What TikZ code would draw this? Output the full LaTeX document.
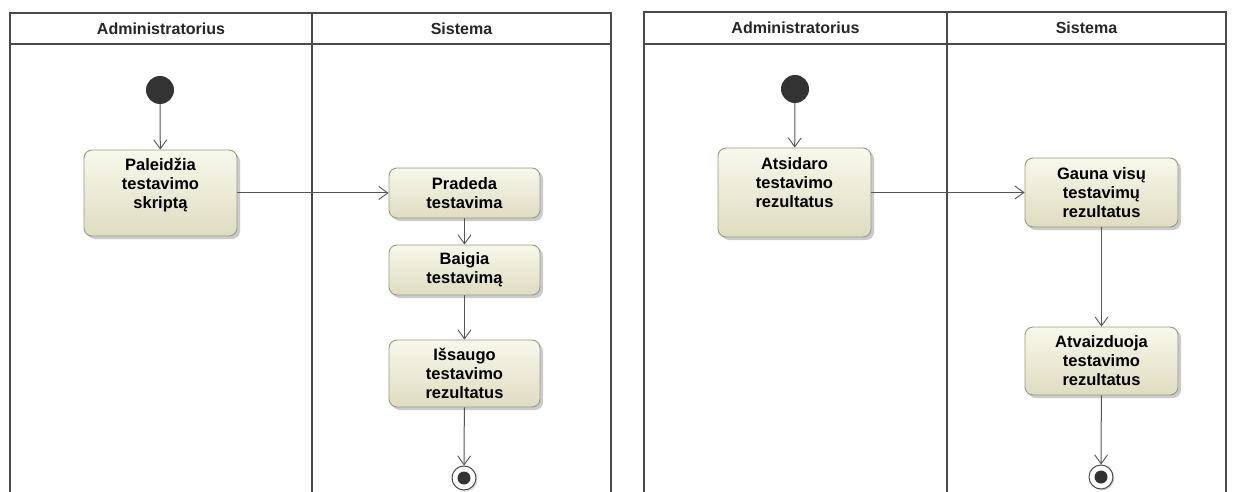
\documentclass[tikz,border=0pt]{standalone}
\usepackage{fontspec}
\setmainfont{Liberation Sans}
\usetikzlibrary{arrows.meta,shadows}
\definecolor{framec}{HTML}{4A4A4A}
\definecolor{linec}{HTML}{555555}
\definecolor{boxedge}{HTML}{9A9A80}
\definecolor{boxtop}{HTML}{F8F8EC}
\definecolor{boxbot}{HTML}{DEDCC0}
\begin{document}
\begin{tikzpicture}[x=1pt,y=-1pt,
  lane/.style={draw=framec,line width=2pt},
  lanetitle/.style={font=\fontsize{16}{18}\selectfont\bfseries,text=black!85},
  action/.style={draw=boxedge,line width=0.9pt,rounded corners=8pt,
    top color=boxtop,bottom color=boxbot,
    drop shadow={shadow xshift=3pt,shadow yshift=-3pt,fill=black!45,opacity=0.45},
    align=center,inner sep=2pt,minimum width=151pt,
    font=\fontsize{16.5}{19}\selectfont\bfseries},
  initial/.style={circle,fill=black!80,minimum size=28pt,inner sep=0pt},
  finalring/.style={circle,draw=black!70,fill=white,line width=1pt,minimum size=24pt,inner sep=0pt,
    drop shadow={shadow xshift=1.5pt,shadow yshift=-1.5pt,fill=black!35,opacity=0.4}},
  finaldot/.style={circle,fill=black!80,minimum size=13pt,inner sep=0pt},
  flow/.style={draw=linec,line width=1pt,-{Straight Barb[length=9pt,width=13pt,line width=0.9pt]}}]
\useasboundingbox (0,0) rectangle (1235,492);
\fill[white] (0,0) rectangle (1235,492);
\clip (0,0) rectangle (1235,492);

% ---- left diagram: swimlanes ----
\draw[lane] (10,13) rectangle (611,510);
\draw[lane] (10,44.5) -- (611,44.5);
\draw[lane,line width=2.6pt] (312,13) -- (312,510);
\node[lanetitle] (la1) at (161,28.5) {Administratorius};
\node[lanetitle] (ls1) at (461.5,28.5) {Sistema};

\node[initial] (s1) at (160,90) {};
% the trailing empty line lifts the text towards the top of the box
\node[action,minimum width=153pt,minimum height=86pt] (a1) at (160.5,193) {Paleidžia\\testavimo\\skriptą\\\mbox{}};
\node[action,minimum height=50pt] (a2) at (464.5,193) {Pradeda\\testavima};
\node[action,minimum height=50pt] (a3) at (464.5,270) {Baigia\\testavimą};
\node[action,minimum height=67pt] (a4) at (464.5,373.5) {Išsaugo\\testavimo\\rezultatus};
\node[finalring] (e1) at (464,478) {};
\node[finaldot] (e1d) at (e1) {};

\draw[flow] (s1) -- (a1);
\draw[flow] (a1) -- (a2);
\draw[flow] (a2) -- (a3);
\draw[flow] (a3) -- (a4);
\draw[flow] (a4) -- (e1);

% ---- right diagram: swimlanes ----
\draw[lane] (644,12) rectangle (1226,510);
\draw[lane] (644,44) -- (1226,44);
\draw[lane,line width=2.6pt] (947,12) -- (947,510);
\node[lanetitle] (la2) at (795.5,27.5) {Administratorius};
\node[lanetitle] (ls2) at (1086.5,27.5) {Sistema};

\node[initial] (s2) at (795,89) {};
\node[action,minimum width=153pt,minimum height=89pt] (b1) at (794.5,192.5) {Atsidaro\\testavimo\\rezultatus\\\mbox{}};
\node[action,minimum width=153pt,minimum height=69pt] (b2) at (1101.5,192.5) {Gauna visų\\testavimų\\rezultatus};
\node[action,minimum width=153pt,minimum height=68pt] (b3) at (1101.5,361) {Atvaizduoja\\testavimo\\rezultatus};
\node[finalring] (e2) at (1101,477) {};
\node[finaldot] (e2d) at (e2) {};

\draw[flow] (s2) -- (b1);
\draw[flow] (b1) -- (b2);
\draw[flow] (b2) -- (b3);
\draw[flow] (b3) -- (e2);
\end{tikzpicture}
\end{document}
